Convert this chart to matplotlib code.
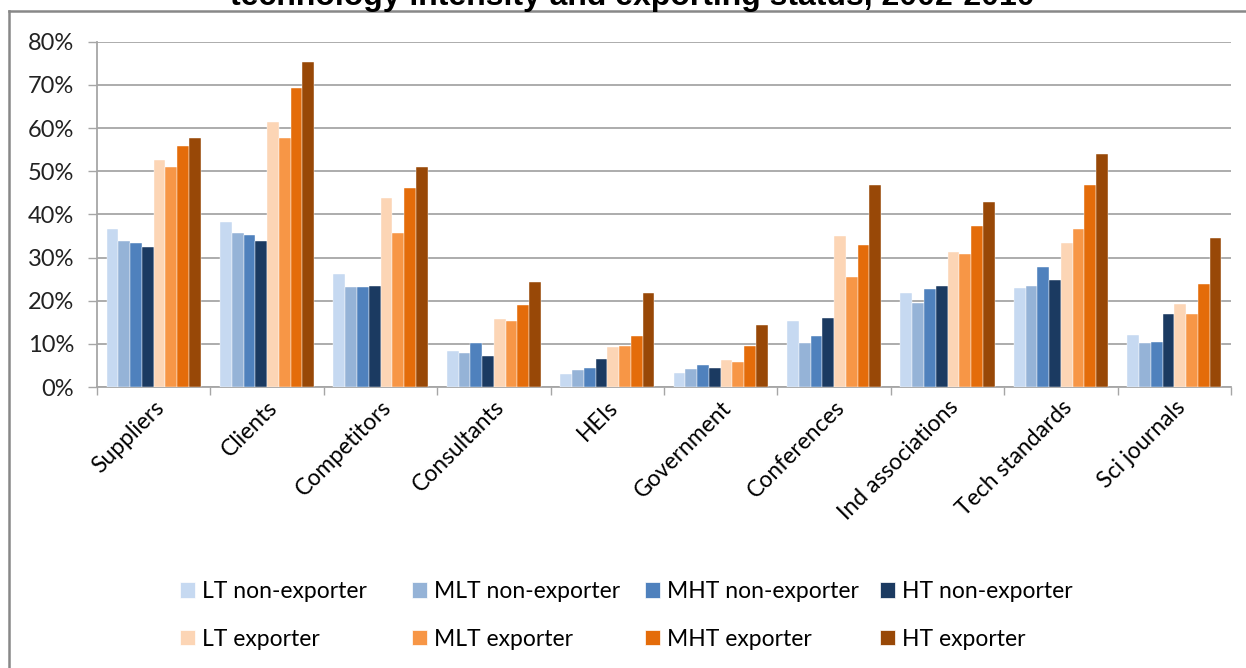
import numpy as np
import matplotlib
matplotlib.use('Agg')
import matplotlib.pyplot as plt
from matplotlib.patches import Patch
from matplotlib.lines import Line2D

categories = ['Suppliers', 'Clients', 'Competitors', 'Consultants', 'HEIs',
              'Government', 'Conferences', 'Ind associations', 'Tech standards',
              'Sci journals']

series_names = ['LT non-exporter', 'MLT non-exporter', 'MHT non-exporter',
                'HT non-exporter', 'LT exporter', 'MLT exporter',
                'MHT exporter', 'HT exporter']

# share of firms (%) citing each source, one list per firm group
lt_non = [36.6, 38.3, 26.1, 8.4, 3.0, 3.3, 15.2, 21.7, 22.9, 12.1]
mlt_non = [33.9, 35.7, 23.2, 7.8, 3.9, 4.2, 10.1, 19.4, 23.5, 10.1]
mht_non = [33.3, 35.1, 23.2, 10.1, 4.5, 5.1, 11.9, 22.6, 27.7, 10.4]
ht_non = [32.4, 33.9, 23.5, 7.1, 6.6, 4.5, 16.1, 23.5, 24.7, 17.0]
lt_exp = [52.6, 61.5, 43.7, 15.7, 9.2, 6.3, 34.9, 31.2, 33.3, 19.3]
mlt_exp = [50.9, 57.6, 35.7, 15.4, 9.5, 5.7, 25.6, 30.9, 36.6, 17.0]
mht_exp = [55.9, 69.2, 46.1, 19.1, 11.9, 9.5, 32.8, 37.2, 46.7, 23.8]
ht_exp = [57.6, 75.2, 50.9, 24.4, 21.7, 14.3, 46.7, 42.8, 53.9, 34.5]

series = [lt_non, mlt_non, mht_non, ht_non, lt_exp, mlt_exp, mht_exp, ht_exp]
colors = ['#C6D9F1', '#95B3D7', '#4F81BD', '#1B3A61',
          '#FCD5B5', '#F79646', '#E46C0A', '#984807']

yticks = [0, 10, 20, 30, 40, 50, 60, 70, 80]

W, H = 1246, 668
FONT = 'Lato'
GRID = '#A6A6A6'

fig = plt.figure(figsize=(W / 100, H / 100), dpi=100)
ax = fig.add_axes([97 / W, 1 - 387 / H, (1231 - 97) / W, (387 - 41.7) / H])

x = np.arange(len(categories))
bw = 0.104
for i, (vals, c) in enumerate(zip(series, colors)):
    ax.bar(x + (i - 3.5) * bw, vals, bw, color=c, label=series_names[i],
           edgecolor='white', linewidth=0.3, zorder=3)

ax.set_xlim(-0.5, len(categories) - 0.5)
ax.set_ylim(0, 80)
ax.set_yticks(yticks)
ax.set_yticklabels([f'{v}%' for v in yticks], fontsize=17, family=FONT,
                   color='#222222')
ax.tick_params(axis='y', length=6.5, width=1, color=GRID, pad=10)
ax.yaxis.grid(True, color=GRID, linewidth=1.3, zorder=0)

ax.set_xticks(x)
ax.set_xticks(np.arange(len(categories) + 1) - 0.5, minor=True)
ax.tick_params(axis='x', which='major', length=0, pad=7)
ax.tick_params(axis='x', which='minor', length=6, width=1, color=GRID)
ax.set_xticklabels(categories, rotation=45, ha='right',
                   rotation_mode='anchor', fontsize=16.5, family=FONT)

for s in ['top', 'right']:
    ax.spines[s].set_visible(False)
for s in ['left', 'bottom']:
    ax.spines[s].set_color(GRID)
    ax.spines[s].set_linewidth(1.3)

# chart frame (only the left and top edges are in view)
fig.add_artist(Line2D([9 / W, 9 / W], [0, 1 - 11 / H], color='#888888',
                      linewidth=1.8, transform=fig.transFigure))
fig.add_artist(Line2D([9 / W, 1], [1 - 11 / H, 1 - 11 / H], color='#888888',
                      linewidth=1.8, transform=fig.transFigure))

fig.text(632 / W, 1 - 5 / H,
         'technology intensity and exporting status, 2002-2010',
         ha='center', va='baseline', fontsize=23, fontweight='bold',
         family='Liberation Sans')

# legend: four columns, non-exporters on the top row, exporters below
col_x = [180, 412, 645, 880]
for k in range(4):
    handles = [Patch(facecolor=colors[k], edgecolor='white', linewidth=0.5),
               Patch(facecolor=colors[k + 4], edgecolor='white', linewidth=0.5)]
    fig.legend(handles, [series_names[k], series_names[k + 4]],
               loc='upper left', bbox_to_anchor=(col_x[k] / W, 1 - 581 / H),
               frameon=False, borderpad=0, borderaxespad=0,
               handlelength=0.66, handleheight=0.66, handletextpad=0.28,
               labelspacing=1.17, prop={'family': FONT, 'size': 16.5})

fig.savefig('out.png', dpi=100)
